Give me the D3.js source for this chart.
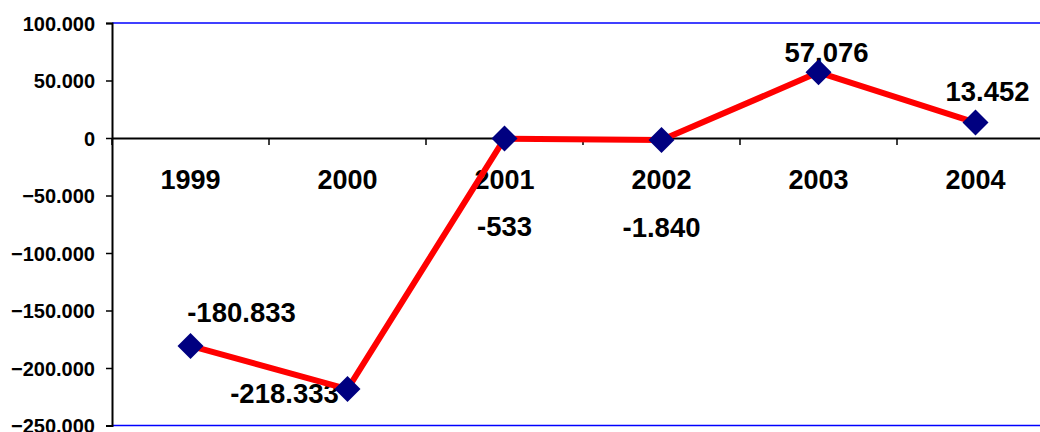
<!DOCTYPE html>
<html><head><meta charset="utf-8">
<script src="https://cdn.jsdelivr.net/npm/d3@7"></script>
<style>body{margin:0;background:#fff}svg{display:block}text{font-family:"Liberation Sans",Arial,sans-serif;font-weight:bold;fill:#000}</style>
</head><body>
<script>
const categories = ["1999","2000","2001","2002","2003","2004"];
const values = [-180833, -218333, -533, -1840, 57076, 13452];
const valueLabels = ["-180.833","-218.333","-533","-1.840","57.076","13.452"];
const yTicks = [100000, 50000, 0, -50000, -100000, -150000, -200000, -250000];
const labelOffsets = [[51,-24],[-63,14],[0,97],[0,97],[8,-10],[12,-22]];

(function () {
const W = 1040, H = 432;
const pLeft = 112, pTop = 23, pBottom = 425.5, pRight = 1054;
const svg = d3.select("body").append("svg").attr("width", W).attr("height", H);

const x = d3.scaleBand().domain(categories).range([pLeft, pRight]);
const y = d3.scaleLinear().domain([-250000, 100000]).range([pBottom, pTop]);
const fmt = v => d3.format(",")(v).replace(/,/g, ".");

svg.append("line").attr("x1", pLeft).attr("x2", W).attr("y1", y(100000)).attr("y2", y(100000)).attr("stroke", "#0000ff").attr("stroke-width", 1.5);
svg.append("line").attr("x1", pLeft).attr("x2", W).attr("y1", y(-250000)).attr("y2", y(-250000)).attr("stroke", "#0000ff").attr("stroke-width", 1.5);

const yAxis = svg.append("g").attr("transform", `translate(${pLeft},0)`)
  .call(d3.axisLeft(y).tickValues(yTicks).tickFormat(fmt).tickSize(6).tickPadding(11));
yAxis.select(".domain").attr("stroke", "#000").attr("stroke-width", 2);
yAxis.selectAll(".tick line").attr("stroke", "#000").attr("stroke-width", 1.5);
yAxis.selectAll(".tick text").style("font-size", "20px").attr("dy", "0.36em");

const xAxis = svg.append("g").attr("transform", `translate(0,${y(0)})`)
  .call(d3.axisBottom(x).tickSize(0).tickFormat(""));
xAxis.select(".domain").attr("stroke", "#000").attr("stroke-width", 2);
const bounds = d3.range(categories.length + 1).map(i => pLeft + i * x.step());
svg.append("g").selectAll("line").data(bounds).join("line")
  .attr("x1", d => d).attr("x2", d => d).attr("y1", y(0)).attr("y2", y(0) + 7)
  .attr("stroke", "#000").attr("stroke-width", 1.5);
svg.append("g").selectAll("text").data(categories).join("text")
  .attr("x", d => x(d) + x.bandwidth() / 2).attr("y", y(0) + 51)
  .attr("text-anchor", "middle").style("font-size", "27px").text(d => d);

svg.append("g").selectAll("text").data(values).join("text")
  .attr("x", (d, i) => x(categories[i]) + x.bandwidth() / 2 + labelOffsets[i][0])
  .attr("y", (d, i) => y(d) + labelOffsets[i][1])
  .attr("text-anchor", "middle").style("font-size", "27.5px").text((d, i) => valueLabels[i]);

const line = d3.line().x((d, i) => x(categories[i]) + x.bandwidth() / 2).y(d => y(d));
svg.append("path").datum(values).attr("d", line).attr("fill", "none")
  .attr("stroke", "#ff0000").attr("stroke-width", 6).attr("stroke-linejoin", "round");

svg.append("g").selectAll("path").data(values).join("path")
  .attr("transform", (d, i) => `translate(${x(categories[i]) + x.bandwidth() / 2},${y(d)})`)
  .attr("d", "M0,-13L13,0L0,13L-13,0Z").attr("fill", "#000080");
})();
</script>
</body></html>
